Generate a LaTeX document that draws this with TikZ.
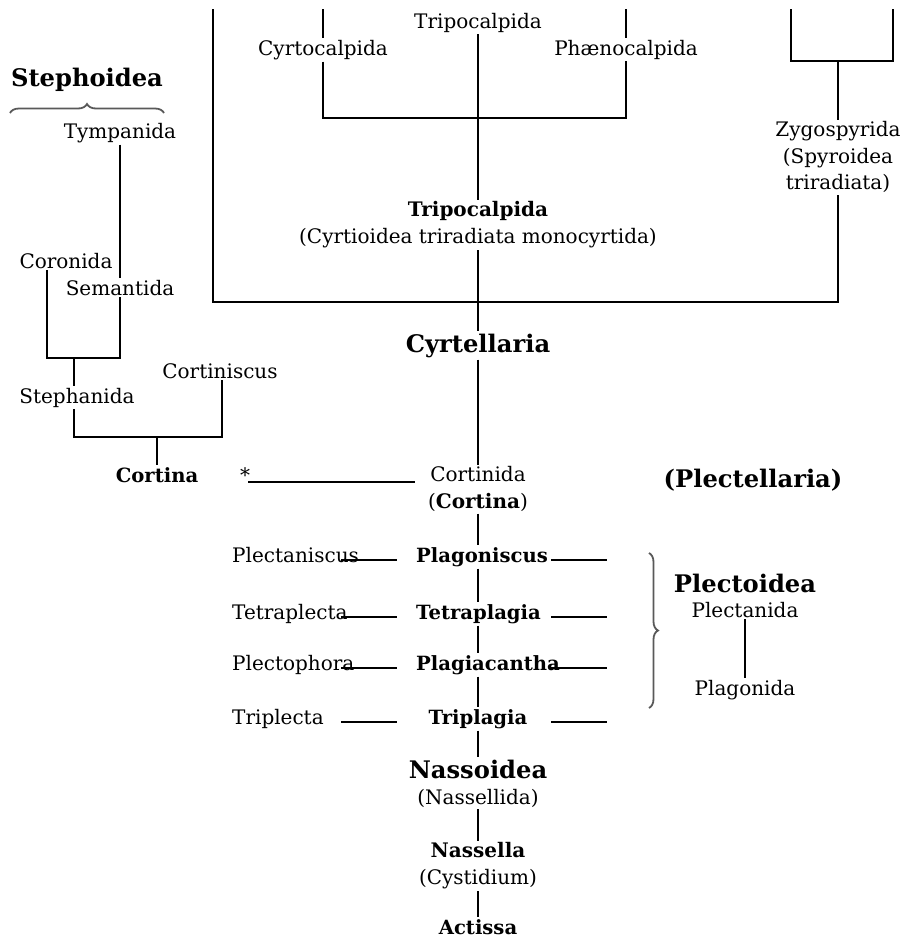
\documentclass[tikz,border=0pt]{standalone}
\usepackage{fontspec}
\setmainfont{DejaVu Serif}
\usetikzlibrary{decorations.pathreplacing}
\begin{document}
\begin{tikzpicture}[x=1pt,y=-1pt,
  nm/.style={font=\fontsize{20}{26.5}\selectfont, inner sep=2pt},
  bd/.style={font=\fontsize{19.6}{26.5}\selectfont\bfseries, inner sep=2pt},
  big/.style={font=\fontsize{24.2}{28}\selectfont\bfseries, inner sep=2pt},
  ln/.style={line width=2.2pt},
  brc/.style={draw=gray!70!black, line width=1.8pt, decorate, decoration={brace, amplitude=9pt}}]
\useasboundingbox (0,0) rectangle (901,940);
% top
\node[nm,anchor=base] (tript) at (478,28) {Tripocalpida};
\node[nm,anchor=base] (cyrto) at (323,55) {Cyrtocalpida};
\node[nm,anchor=base] (phaeno) at (626,55) {Phænocalpida};
\node[nm,anchor=north,align=center] (zygo) at (838,119.5) {Zygospyrida\\(Spyroidea\\triradiata)};
\node[nm,anchor=north,align=center] (trip) at (478,199.5) {\textbf{Tripocalpida}\\(Cyrtioidea triradiata monocyrtida)};
\node[big,anchor=base] (cyrtell) at (478,352) {Cyrtellaria};
\node[nm,anchor=north,align=center] (cortinida) at (478,464.5) {Cortinida\\(\textbf{Cortina})};
\node[nm,anchor=base] (star) at (245,482) {*};
\node[big,anchor=base] (plectell) at (753,487) {(Plectellaria)};
% left
\node[big,anchor=base] (steph) at (87,86) {Stephoidea};
\node[nm,anchor=base] (tymp) at (120,138) {Tympanida};
\node[nm,anchor=base] (coron) at (66,268) {Coronida};
\node[nm,anchor=base] (seman) at (120,295) {Semantida};
\node[nm,anchor=base] (stephan) at (77,403) {Stephanida};
\node[nm,anchor=base] (cortis) at (220,378) {Cortiniscus};
\node[bd,anchor=base] (cortina) at (157,482) {Cortina};
% rows
\node[nm,anchor=base west] (plectanis) at (230,562) {Plectaniscus};
\node[nm,anchor=base west] (tetrapl) at (230,619) {Tetraplecta};
\node[nm,anchor=base west] (plectoph) at (230,670) {Plectophora};
\node[nm,anchor=base west] (tripl) at (230,724) {Triplecta};
\node[bd,anchor=base west] (plagonis) at (414,562) {Plagoniscus};
\node[bd,anchor=base west] (tetrapla) at (414,619) {Tetraplagia};
\node[bd,anchor=base west] (plagiac) at (414,670) {Plagiacantha};
\node[bd,anchor=base] (triplag) at (478,724) {Triplagia};
% right group
\node[big,anchor=base] (plectoid) at (745,592) {Plectoidea};
\node[nm,anchor=base] (plectan) at (745,617) {Plectanida};
\node[nm,anchor=base] (plagon) at (745,695) {Plagonida};
% bottom
\node[big,anchor=base] (nasso) at (478,778) {Nassoidea};
\node[nm,anchor=base] (nassellida) at (478,804) {(Nassellida)};
\node[nm,anchor=north,align=center] (nassella) at (478,840.5) {\textbf{Nassella}\\(Cystidium)};
\node[bd,anchor=base] (actissa) at (478,934) {Actissa};
% coordinates
\coordinate (axis) at (478,0);
\coordinate (tl) at (213,9);
\coordinate (bl) at (213,302);
\coordinate (br) at (838,302);
\coordinate (cyt) at (323,9);
\coordinate (j1) at (323,118);
\coordinate (j2) at (626,118);
\coordinate (pht) at (626,9);
\coordinate (bx1) at (791,9);
\coordinate (bx2) at (791,61);
\coordinate (bx3) at (893,61);
\coordinate (bx4) at (893,9);
\coordinate (bxm) at (838,61);
\coordinate (jl) at (47,358);
\coordinate (jr) at (120,358);
\coordinate (jm) at (74,358);
\coordinate (kl) at (74,437);
\coordinate (kr) at (222,437);
\coordinate (km) at (157,437);
\coordinate (s1) at (248,482);
\coordinate (s2) at (415,482);
\coordinate (la) at (341,0);
\coordinate (lb) at (397,0);
\coordinate (ra) at (551,0);
\coordinate (rb) at (607,0);
% connectors
\draw[ln] (tl) -- (bl) -- (br) -- (zygo.south);
\draw[ln] (cyt) -- (cyrto.north);
\draw[ln] (cyrto.south) -- (j1) -- (j2) -- (phaeno.south);
\draw[ln] (pht) -- (phaeno.north);
\draw[ln] (tript.south) -- (trip.north);
\draw[ln] (bx1) -- (bx2) -- (bx3) -- (bx4);
\draw[ln] (bxm) -- (zygo.north);
\draw[ln] (trip.south) -- (cyrtell.north);
\draw[ln] (cyrtell.south) -- (cortinida.north);
\draw[ln] (cortinida.south) -- (plagonis.north -| axis);
\draw[ln] (plagonis.south -| axis) -- (tetrapla.north -| axis);
\draw[ln] (tetrapla.south -| axis) -- (plagiac.north -| axis);
\draw[ln] (plagiac.south -| axis) -- (triplag.north);
\draw[ln] (triplag.south) -- (nasso.north);
\draw[ln] (nassellida.south) -- (nassella.north);
\draw[ln] (nassella.south) -- (actissa.north);
\draw[ln] (s1) -- (s2);
% row dashes
\foreach \yy in {560,617,668,722}{
  \draw[ln] (la |- 0,\yy) -- (lb |- 0,\yy);
  \draw[ln] (ra |- 0,\yy) -- (rb |- 0,\yy);
}
% left tree
\draw[ln] (tymp.south) -- (seman.north);
\draw[ln] (coron.south -| jl) -- (jl) -- (jr) -- (seman.south -| jr);
\draw[ln] (jm) -- (stephan.north -| jm);
\draw[ln] (stephan.south -| kl) -- (kl) -- (kr) -- (cortis.south -| kr);
\draw[ln] (km) -- (cortina.north -| km);
% right
\draw[ln] (plectan.south) -- (plagon.north);
% braces
\draw[brc] (10,113) -- (164,113);
\draw[brc] (649,553) -- (649,708);
\end{tikzpicture}
\end{document}
